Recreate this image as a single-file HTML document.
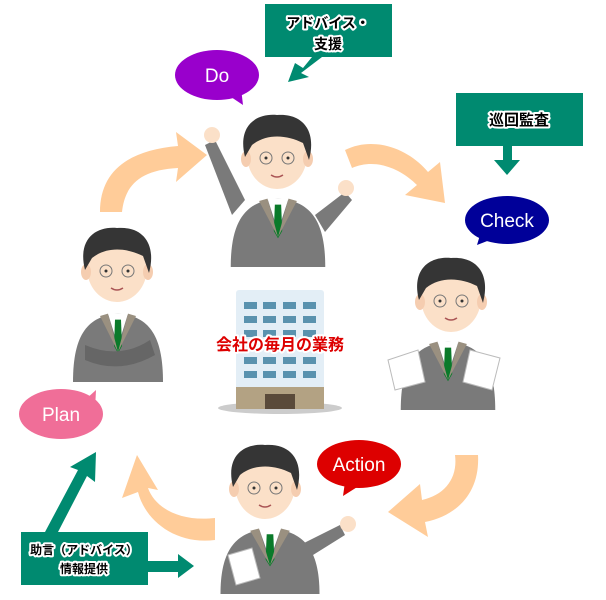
<!DOCTYPE html>
<html><head><meta charset="utf-8"><style>
html,body{margin:0;padding:0;background:#fff;}
svg{display:block;}
.jp{font-family:"Liberation Sans","Noto Sans CJK JP",sans-serif;font-weight:bold;}
.lbl{font-family:"Liberation Sans",sans-serif;fill:#fff;}
.out{stroke:#fff;stroke-width:4;paint-order:stroke;stroke-linejoin:round;}
</style></head><body>
<svg width="606" height="600" viewBox="0 0 606 600" xmlns="http://www.w3.org/2000/svg">
<defs>
<g id="head">
  <ellipse cx="0" cy="0" rx="30" ry="34" fill="#fbe0c8"/>
  <ellipse cx="-31" cy="4" rx="5" ry="8" fill="#f5cdb0"/>
  <ellipse cx="31" cy="4" rx="5" ry="8" fill="#f5cdb0"/>
  <path d="M-32,2 C-40,-30 -20,-42 0,-40 C25,-42 40,-25 32,5 L26,-12 C10,-20 -10,-22 -25,-10 Z" fill="#353535"/>
  <circle cx="-11" cy="3" r="6" fill="none" stroke="#777" stroke-width="1"/>
  <circle cx="11" cy="3" r="6" fill="none" stroke="#777" stroke-width="1"/>
  <circle cx="-11" cy="3" r="1.5" fill="#333"/><circle cx="11" cy="3" r="1.5" fill="#333"/>
  <path d="M-6,20 Q0,24 6,20" stroke="#a55" stroke-width="1.5" fill="none"/>
</g>
<g id="body">
  <path d="M-45,60 C-45,20 -30,5 0,3 C30,5 45,20 45,60 Z" fill="#7a7a7a"/>
  <path d="M-10,3 L0,30 L10,3 Z" fill="#fff"/>
  <path d="M-3,8 L3,8 L4,30 L0,36 L-4,30 Z" fill="#0a7a2a"/>
  <path d="M-18,5 L-10,3 L0,35 Z M18,5 L10,3 L0,35 Z" fill="#9a9080"/>
</g>
</defs>

<g fill="#ffcc99">
  <path d="M100,212 C100,170 130,150 178,146 L176,132 L207,155 L176,182 L178,168 C140,170 125,185 122,212 Z"/>
  <path d="M345,150 C375,135 410,150 428,172 L440,162 L445,203 L405,195 L417,185 C400,168 375,158 352,168 Z"/>
  <path d="M478,455 C480,490 460,515 425,522 L428,537 L388,512 L420,484 L422,500 C445,495 458,478 455,455 Z"/>
  <path d="M215,540 C175,545 145,520 138,492 L122,498 L137,455 L158,490 L148,488 C155,508 180,522 215,518 Z"/>
</g>

<ellipse cx="280" cy="408" rx="62" ry="6" fill="#ccc"/>
<rect x="236" y="290" width="88" height="100" rx="3" fill="#e3eef6"/>
<g fill="#5a92ae">
  <rect x="244" y="302" width="13" height="7"/><rect x="263" y="302" width="13" height="7"/><rect x="283" y="302" width="13" height="7"/><rect x="303" y="302" width="13" height="7"/>
  <rect x="244" y="316" width="13" height="7"/><rect x="263" y="316" width="13" height="7"/><rect x="283" y="316" width="13" height="7"/><rect x="303" y="316" width="13" height="7"/>
  <rect x="244" y="330" width="13" height="7"/><rect x="263" y="330" width="13" height="7"/><rect x="283" y="330" width="13" height="7"/><rect x="303" y="330" width="13" height="7"/>
  <rect x="244" y="357" width="13" height="7"/><rect x="263" y="357" width="13" height="7"/><rect x="283" y="357" width="13" height="7"/><rect x="303" y="357" width="13" height="7"/>
  <rect x="244" y="371" width="13" height="7"/><rect x="263" y="371" width="13" height="7"/><rect x="283" y="371" width="13" height="7"/><rect x="303" y="371" width="13" height="7"/>
</g>
<rect x="236" y="387" width="88" height="22" fill="#b3a283"/>
<rect x="265" y="394" width="30" height="15" fill="#5a4a3a"/>
<text x="280" y="350" text-anchor="middle" class="jp out" font-size="16" fill="#dd0000">会社の毎月の業務</text>

<path d="M245,200 L215,140 L205,145 L232,215 Z" fill="#7a7a7a"/>
<circle cx="212" cy="135" r="8" fill="#fbe0c8"/>
<path d="M315,215 L345,192 L352,200 L325,232 Z" fill="#7a7a7a"/>
<circle cx="346" cy="188" r="8" fill="#fbe0c8"/>
<use href="#body" transform="translate(278,195) scale(1.05,1.2)"/>
<use href="#head" transform="translate(277,155)"/>
<use href="#body" transform="translate(118,310) scale(1,1.2)"/>
<path d="M85,345 Q120,360 150,340 L155,355 Q120,375 85,360 Z" fill="#666"/>
<use href="#head" transform="translate(117,268)"/>
<use href="#body" transform="translate(448,338) scale(1.05,1.2)"/>
<path d="M388,360 L418,350 L425,382 L395,390 Z" fill="#fff" stroke="#bbb"/>
<path d="M470,350 L500,358 L492,390 L463,382 Z" fill="#fff" stroke="#bbb"/>
<use href="#head" transform="translate(451,298)"/>
<use href="#body" transform="translate(270,525) scale(1.1,1.15)"/>
<path d="M300,545 L340,525 L345,535 L305,560 Z" fill="#7a7a7a"/>
<circle cx="348" cy="524" r="8" fill="#fbe0c8"/>
<path d="M228,555 L252,548 L260,578 L236,585 Z" fill="#fff" stroke="#bbb"/>
<use href="#head" transform="translate(265,485)"/>

<ellipse cx="217" cy="75" rx="42" ry="25" fill="#9900cc"/>
<path d="M228,95 L243,105 L241,88 Z" fill="#9900cc"/>
<text x="217" y="82" text-anchor="middle" class="lbl" font-size="19">Do</text>

<ellipse cx="507" cy="220" rx="42" ry="24" fill="#000099"/>
<path d="M480,235 L477,245 L495,238 Z" fill="#000099"/>
<text x="507" y="227" text-anchor="middle" class="lbl" font-size="19">Check</text>

<ellipse cx="359" cy="464" rx="42" ry="24" fill="#dd0000"/>
<path d="M345,482 L343,496 L362,484 Z" fill="#dd0000"/>
<text x="359" y="471" text-anchor="middle" class="lbl" font-size="19">Action</text>

<ellipse cx="61" cy="414" rx="42" ry="25" fill="#f06e98"/>
<path d="M85,400 L96,390 L95,410 Z" fill="#f06e98"/>
<text x="61" y="421" text-anchor="middle" class="lbl" font-size="19">Plan</text>

<g fill="#008a70">
  <rect x="265" y="4" width="127" height="53"/>
  <path d="M312,57 L303,68 L295,63 L288,82 L309,77 L301,73 L322,57 Z"/>
  <rect x="456" y="93" width="127" height="53"/>
  <path d="M503,146 L512,146 L512,160 L520,160 L507,175 L494,160 L503,160 Z"/>
  <rect x="21" y="532" width="127" height="53"/>
  <path d="M45,532 L78,470 L70,467 L96,452 L95,482 L87,476 L58,532 Z"/>
  <path d="M148,561 L178,561 L178,554 L194,566 L178,578 L178,572 L148,572 Z"/>
</g>
<text x="328" y="28" text-anchor="middle" class="jp out" font-size="14" fill="#000">アドバイス・</text>
<text x="328" y="49" text-anchor="middle" class="jp out" font-size="14" fill="#000">支援</text>
<text x="519" y="125" text-anchor="middle" class="jp out" font-size="15" fill="#000">巡回監査</text>
<text x="84" y="554" text-anchor="middle" class="jp out" font-size="12" fill="#000">助言（アドバイス）</text>
<text x="84" y="573" text-anchor="middle" class="jp out" font-size="12" fill="#000">情報提供</text>
</svg>
</body></html>
